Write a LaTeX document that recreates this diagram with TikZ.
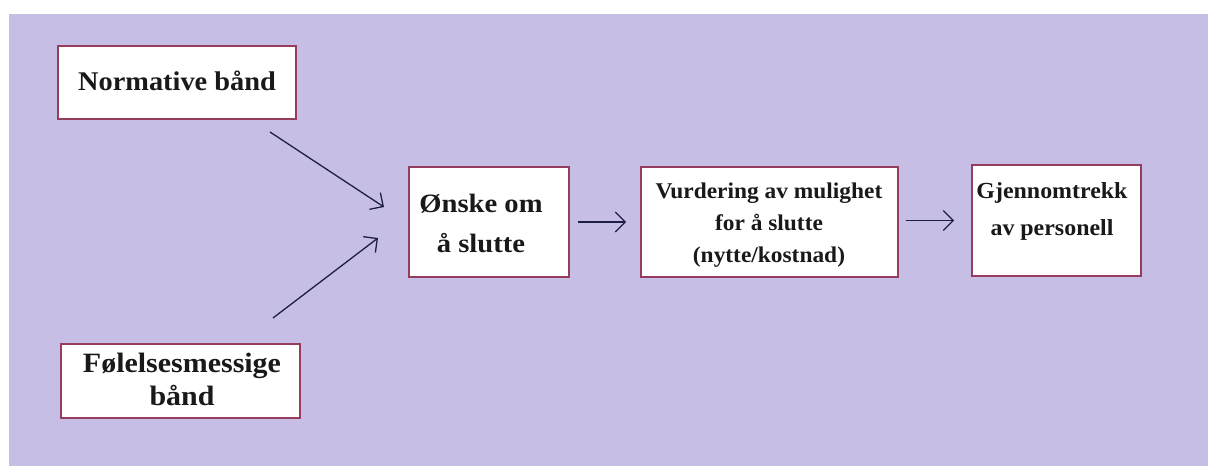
\documentclass[tikz,border=0pt]{standalone}
\usepackage{fontspec}
\setmainfont{Liberation Serif}
\usetikzlibrary{arrows.meta}
\definecolor{bgpurple}{RGB}{198,190,228}
\definecolor{boxborder}{RGB}{150,60,95}
\definecolor{arrowcol}{RGB}{30,30,70}
\begin{document}
\begin{tikzpicture}[x=1pt,y=-1pt,
  box/.style={draw=boxborder, line width=1.6pt, fill=white, inner sep=0pt},
  lbl/.style={align=center, inner sep=0pt, anchor=base, text=black!90},
  conn/.style={draw=arrowcol, line width=1.3pt, -{Straight Barb[length=10pt,width=20pt,line width=1.3pt]}}]
\fill[white] (0,0) rectangle (1208,466);
\useasboundingbox (0,0) rectangle (1208,466);
\fill[bgpurple] (9,14) rectangle (1208,466);
% boxes
\node[box, minimum width=238pt, minimum height=73pt] (nb) at (177,82.5) {};
\node[box, minimum width=239pt, minimum height=74pt] (fb) at (180.5,381) {};
\node[box, minimum width=160pt, minimum height=110pt] (oe) at (489,222) {};
\node[box, minimum width=257pt, minimum height=110pt] (vu) at (769.5,222) {};
\node[box, minimum width=169pt, minimum height=111pt] (gj) at (1056.5,220.5) {};
% labels (anchor = baseline of last line)
\node[lbl, font=\bfseries\fontsize{27}{32}\selectfont\addfontfeatures{FakeStretch=1.05}] (nbt) at (177,90) {Normative bånd};
\node[lbl, font=\bfseries\fontsize{28}{33}\selectfont\addfontfeatures{FakeStretch=1.07}] (fbt) at (182,405) {Følelsesmessige\\bånd};
\node[lbl, font=\bfseries\fontsize{26.5}{40}\selectfont\addfontfeatures{FakeStretch=1.08}] (oet) at (481,252) {Ønske om\\å slutte};
\node[lbl, font=\bfseries\fontsize{22.5}{32}\selectfont\addfontfeatures{FakeStretch=1.04}] (vut) at (769,262) {Vurdering av mulighet\\for å slutte\\(nytte/kostnad)};
\node[lbl, font=\bfseries\fontsize{23}{37}\selectfont\addfontfeatures{FakeStretch=1.04}] (gjt) at (1052,235) {Gjennomtrekk\\av personell};
% connectors
\coordinate (a1s) at (270,132);
\coordinate (a1e) at (384,207);
\coordinate (a2s) at (273,318);
\coordinate (a2e) at (378,238);
\draw[conn] (a1s) -- (a1e);
\draw[conn] (a2s) -- (a2e);
\draw[conn, shorten <=8pt, shorten >=14pt] (oe.east) -- (vu.west);
\draw[conn, shorten <=7pt, shorten >=17pt] (vu.east |- gj.west) -- (gj.west);
\end{tikzpicture}
\end{document}
